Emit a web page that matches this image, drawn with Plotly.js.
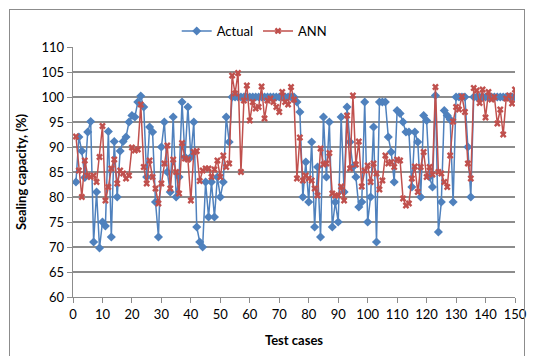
<!DOCTYPE html>
<html>
<head>
<meta charset="utf-8">
<script src="https://cdn.plot.ly/plotly-3.0.1.min.js"></script>
<style>
html,body{margin:0;padding:0;background:#fff;}
#chart{width:533px;height:356px;position:relative;}
#frame{position:absolute;left:9px;top:9px;width:514px;height:352px;border:1px solid #8c8c8c;pointer-events:none;}
</style>
</head>
<body>
<div id="chart"></div>
<div id="frame"></div>
<script>
// Test case indices 1..150
const testCases = [];
for (let i = 1; i <= 150; i++) testCases.push(i);

const actual = [
 83, 92, 89.2, 83.9, 93, 95.1, 71, 81, 69.8, 75,
 74.2, 93.1, 72, 91.1, 80, 89.2, 91.1, 92, 95, 96.3,
 96, 99, 100.2, 98, 84, 94, 93, 79, 72, 90,
 95, 85, 81, 96, 80, 84, 99, 88, 98, 88,
 95, 74, 71, 70, 83, 76, 83, 76, 84, 80,
 83, 96, 91, 100, 100, 100, 100, 100, 100, 100,
 100, 100, 100, 100, 100, 100, 100, 100, 100, 100,
 100, 100, 100, 100, 100, 99, 97, 80, 87, 79,
 91, 74, 86, 72, 96, 84, 95, 74, 79, 75,
 96, 81, 98, 91, 86, 84, 78, 79, 99, 75,
 80, 94, 71, 99, 99, 99, 92, 89, 83, 97.3,
 96.7, 95, 93, 93, 82, 93, 91, 80, 96.3, 95.3,
 84, 82, 100.3, 73, 79, 97.3, 96.3, 95.5, 79, 100,
 100, 100, 100, 90, 80, 100, 100, 100, 100, 100,
 100, 100, 100, 100, 100, 100, 100, 100, 100, 100
];

const ann = [
 92.1, 85.3, 80, 87.3, 84.3, 84, 84.3, 83, 88, 94.2,
 79.3, 82, 85.7, 87.5, 82.7, 85.3, 84.7, 83.7, 84.3, 89.9,
 89.3, 89.5, 98.5, 86, 82.7, 87.3, 84, 81.7, 78.7, 82.7,
 86.7, 90.3, 81.7, 87.5, 85, 80.7, 90.8, 87.7, 87.5, 79.3,
 89, 89.2, 83.2, 85.3, 85.7, 85.7, 84, 85.5, 87.3, 84,
 88.3, 86, 86.7, 104.3, 100.7, 104.8, 85, 99.3, 102.3, 95.3,
 99, 97.7, 98, 102.1, 95.7, 99.3, 99.7, 99, 98, 97,
 101, 99, 98.5, 102, 99.5, 83.7, 91.9, 83.3, 84.3, 83.7,
 83.3, 81.7, 80.3, 89.7, 86.5, 86.7, 88.8, 80.7, 80.3, 80.3,
 82.1, 79.3, 96.3, 85.7, 100.3, 86.5, 91.1, 82.1, 85.3, 86.3,
 83, 86.7, 84.7, 81.5, 83.3, 88.3, 86.7, 87, 86, 87.5,
 87.3, 79.7, 78.3, 78.7, 83.7, 86.1, 81, 86, 89, 84,
 86, 84.5, 102, 85, 84.7, 83, 82, 88.3, 95.1, 98,
 97.5, 100.1, 97, 86.7, 83.7, 101.8, 101.3, 98.8, 101.5, 95.9,
 101, 99.5, 100, 94.7, 97.5, 92.5, 99.7, 100.3, 98.7, 101.5
];

const xTickVals = [0,10,20,30,40,50,60,70,80,90,100,110,120,130,140,150];
const yTickVals = [60,65,70,75,80,85,90,95,100,105,110];

const fontFam = 'Lato, "Liberation Sans", sans-serif';
const gridCol = '#8c8c8c';

const traces = [
 {
  x: testCases, y: actual, name: 'Actual', type: 'scatter', mode: 'lines+markers',
  line: {color: '#4F81BD', width: 1.5},
  marker: {symbol: 'diamond', size: 7, color: '#4F81BD'}
 },
 {
  x: testCases, y: ann, name: 'ANN', type: 'scatter', mode: 'lines+markers',
  line: {color: '#C0504D', width: 1.5},
  marker: {symbol: 'x', size: 6, color: '#C0504D'}
 }
];

const layout = {
 width: 533, height: 356,
 margin: {l: 73, r: 18, t: 47, b: 59},
 paper_bgcolor: '#ffffff', plot_bgcolor: '#ffffff',
 font: {family: fontFam, size: 13, color: '#000'},
 showlegend: true,
 legend: {orientation: 'h', x: 0.41, xanchor: 'center', y: 1.064, yanchor: 'middle',
          font: {family: fontFam, size: 13, color: '#000'}, bgcolor: 'rgba(0,0,0,0)'},
 xaxis: {
  range: [0, 150], tickvals: xTickVals, ticktext: xTickVals.map(String),
  showgrid: false, zeroline: false, showline: true, linecolor: gridCol, linewidth: 1.3,
  ticks: 'outside', ticklen: 5, tickcolor: gridCol, tickwidth: 1,
  tickfont: {family: fontFam, size: 13, color: '#000'},
  title: {text: '<b>Test cases</b>', standoff: 15, font: {family: fontFam, size: 13, color: '#000'}},
  automargin: false
 },
 yaxis: {
  range: [60, 110], tickvals: yTickVals, ticktext: yTickVals.map(String),
  showgrid: true, gridcolor: gridCol, gridwidth: 1.3,
  zeroline: false, showline: true, linecolor: gridCol, linewidth: 1.3,
  ticks: 'outside', ticklen: 5, tickcolor: gridCol, tickwidth: 1,
  tickfont: {family: fontFam, size: 13, color: '#000'},
  title: {text: '<b>Sealing capacity, (%)</b>', standoff: 12, font: {family: fontFam, size: 13, color: '#000'}},
  automargin: false
 }
};

Plotly.newPlot('chart', traces, layout, {displayModeBar: false, staticPlot: true});
</script>
</body>
</html>
